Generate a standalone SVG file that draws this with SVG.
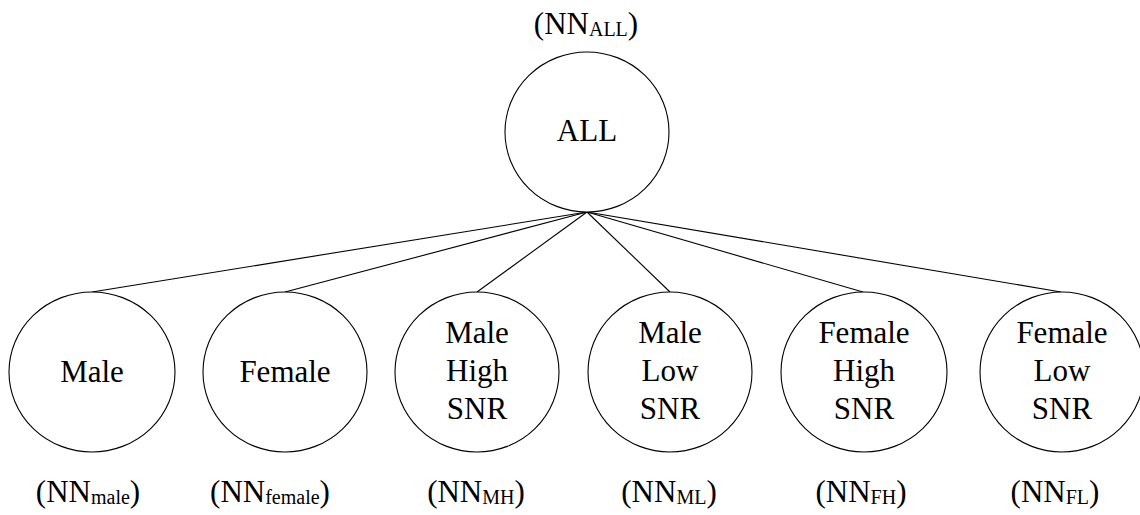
<svg xmlns="http://www.w3.org/2000/svg" width="1140" height="515" viewBox="0 0 1140 515">
  <style>
    .node { fill: #ffffff; stroke: #000000; stroke-width: 1.1; }
    .edge { stroke: #000000; stroke-width: 1.1; fill: none; }
    text { font-family: "Liberation Serif", "Times New Roman", serif; font-size: 31px; fill: #000000; text-anchor: middle; }
    .sub { font-size: 20px; }
  </style>
  <rect width="1140" height="515" fill="#ffffff"/>

  <!-- connectors: root to each child -->
  <g id="connectors">
    <line class="edge" x1="587" y1="212" x2="92" y2="292"/>
    <line class="edge" x1="587" y1="212" x2="285" y2="292"/>
    <line class="edge" x1="587" y1="212" x2="477" y2="292"/>
    <line class="edge" x1="587" y1="212" x2="670" y2="292"/>
    <line class="edge" x1="587" y1="212" x2="863" y2="292"/>
    <line class="edge" x1="587" y1="212" x2="1061" y2="292"/>
  </g>

  <!-- root -->
  <g id="node-all">
    <text x="586" y="34">(NN<tspan class="sub" dy="2">ALL</tspan><tspan dy="-2">)</tspan></text>
    <ellipse class="node" cx="587" cy="132" rx="82" ry="80"/>
    <text x="587" y="141">ALL</text>
  </g>

  <g id="node-male">
    <ellipse class="node" cx="92" cy="372" rx="83" ry="80"/>
    <text x="92" y="382">Male</text>
    <text x="88" y="502">(NN<tspan class="sub" dy="2">male</tspan><tspan dy="-2">)</tspan></text>
  </g>

  <g id="node-female">
    <ellipse class="node" cx="285" cy="372" rx="82" ry="80"/>
    <text x="285" y="382">Female</text>
    <text x="270" y="502">(NN<tspan class="sub" dy="2">female</tspan><tspan dy="-2">)</tspan></text>
  </g>

  <g id="node-male-high">
    <ellipse class="node" cx="477" cy="372" rx="82" ry="80"/>
    <text x="477" y="343">Male</text>
    <text x="477" y="381">High</text>
    <text x="477" y="419">SNR</text>
    <text x="476" y="502">(NN<tspan class="sub" dy="2">MH</tspan><tspan dy="-2">)</tspan></text>
  </g>

  <g id="node-male-low">
    <ellipse class="node" cx="670" cy="372" rx="82" ry="80"/>
    <text x="670" y="343">Male</text>
    <text x="670" y="381">Low</text>
    <text x="670" y="419">SNR</text>
    <text x="669" y="502">(NN<tspan class="sub" dy="2">ML</tspan><tspan dy="-2">)</tspan></text>
  </g>

  <g id="node-female-high">
    <ellipse class="node" cx="864" cy="372" rx="83" ry="80"/>
    <text x="864" y="343">Female</text>
    <text x="864" y="381">High</text>
    <text x="864" y="419">SNR</text>
    <text x="861" y="502">(NN<tspan class="sub" dy="2">FH</tspan><tspan dy="-2">)</tspan></text>
  </g>

  <g id="node-female-low">
    <ellipse class="node" cx="1062" cy="372" rx="82" ry="80"/>
    <text x="1062" y="343">Female</text>
    <text x="1062" y="381">Low</text>
    <text x="1062" y="419">SNR</text>
    <text x="1055" y="502">(NN<tspan class="sub" dy="2">FL</tspan><tspan dy="-2">)</tspan></text>
  </g>
</svg>
